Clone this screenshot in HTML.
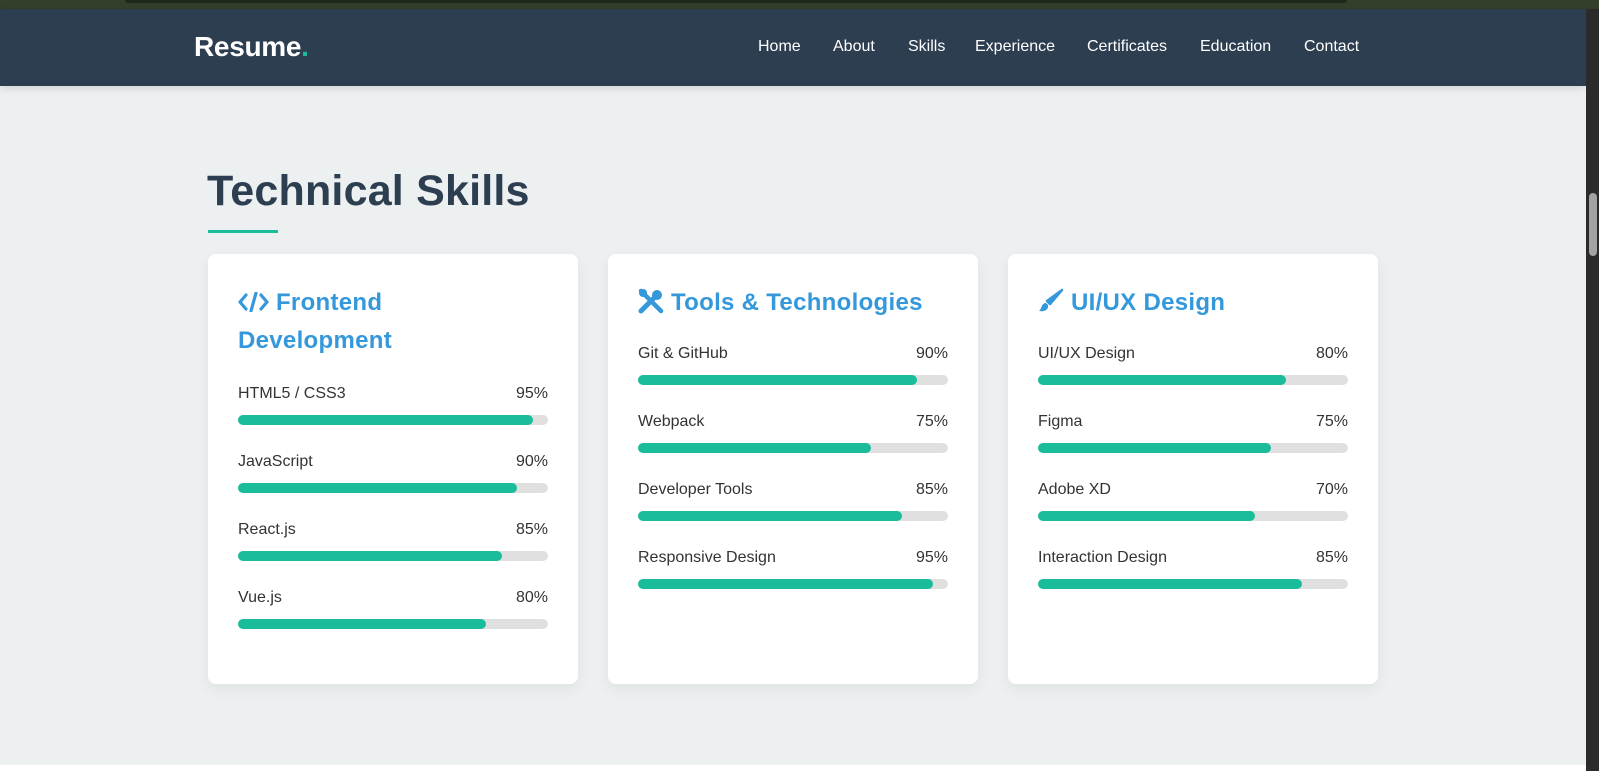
<!DOCTYPE html>
<html><head><meta charset="utf-8"><style>
*{margin:0;padding:0;box-sizing:border-box}
body{width:1599px;height:771px;overflow:hidden;background:#ecf0f1;position:relative;font-family:"Liberation Sans",sans-serif}
.abs{position:absolute}
.top{left:0;top:0;width:1599px;height:9px;background:#333f2b}
.topbar{left:125px;top:0;width:1222px;height:3px;background:#1e2719;border-radius:0 0 8px 8px}
.nav{left:0;top:9px;width:1586px;height:77px;background:#2c3e50;box-shadow:0 2px 8px rgba(0,0,0,.12)}
.logo{left:194px;top:30px;color:#fff;font-size:28px;font-weight:bold;letter-spacing:-0.3px;line-height:34px}
.logo span{color:#1abc9c}
.nl{top:37px;color:#fff;font-size:16px;line-height:20px}
.title{left:207px;top:166px;color:#2c3e50;font-size:43px;font-weight:bold;line-height:50px;letter-spacing:0.2px}
.ul{left:208px;top:230px;width:70px;height:3px;background:#1abc9c}
.card{top:254px;width:370px;height:430px;background:#fff;border-radius:8px;box-shadow:0 5px 15px rgba(0,0,0,.06)}
.h{color:#3498db;font-size:24px;font-weight:bold;line-height:38px;position:absolute;left:30px;letter-spacing:0.3px}
.lab{position:absolute;left:30px;width:310px;font-size:16px;color:#333;line-height:20px}
.lab b{font-weight:normal;float:right}
.bar{position:absolute;left:30px;width:310px;height:10px;border-radius:5px;background:#e0e0e0}
.bar i{display:block;height:10px;border-radius:5px;background:#1abc9c}
.sb{left:1586px;top:9px;width:13px;height:762px;background:#2b2b2b}
.th{left:1589px;top:193px;width:8px;height:63px;background:#a3a3a3;border-radius:4px}
.bot{left:0;top:765px;width:1586px;height:6px;background:#fff}
</style></head><body>
<div class="abs top"></div><div class="abs topbar"></div>
<div class="abs nav"></div>
<div class="abs logo">Resume<span>.</span></div>
<div class="abs nl" style="left:758px">Home</div>
<div class="abs nl" style="left:833px">About</div>
<div class="abs nl" style="left:908px">Skills</div>
<div class="abs nl" style="left:975px">Experience</div>
<div class="abs nl" style="left:1087px">Certificates</div>
<div class="abs nl" style="left:1200px">Education</div>
<div class="abs nl" style="left:1304px">Contact</div>
<div class="abs title">Technical Skills</div>
<div class="abs ul"></div>

<div class="abs card" style="left:208px">
<div class="h" style="top:30px"><svg width="31" height="20" viewBox="0 0 31 20" style="vertical-align:-2px"><path d="M8 3 L2 10 L8 17 M23 3 L29 10 L23 17" stroke="#3498db" stroke-width="3.2" fill="none" stroke-linecap="round" stroke-linejoin="round"/><path d="M18 1 L13 19" stroke="#3498db" stroke-width="3.2" stroke-linecap="round"/></svg> Frontend<br>Development</div>
<div class="lab" style="top:130px">HTML5 / CSS3<b>95%</b></div><div class="bar" style="top:161px"><i style="width:95%"></i></div>
<div class="lab" style="top:198px">JavaScript<b>90%</b></div><div class="bar" style="top:229px"><i style="width:90%"></i></div>
<div class="lab" style="top:266px">React.js<b>85%</b></div><div class="bar" style="top:297px"><i style="width:85%"></i></div>
<div class="lab" style="top:334px">Vue.js<b>80%</b></div><div class="bar" style="top:365px"><i style="width:80%"></i></div>
</div>

<div class="abs card" style="left:608px">
<div class="h" style="top:30px"><svg width="26" height="26" viewBox="0 0 26 26" style="vertical-align:-4px"><path d="M3 23 L17 9" stroke="#3498db" stroke-width="5" stroke-linecap="round"/><circle cx="19" cy="7" r="5" fill="#3498db"/><path d="M3 3 L23 23" stroke="#3498db" stroke-width="4.5" stroke-linecap="round"/><circle cx="5" cy="5" r="4" fill="#3498db"/></svg> Tools &amp; Technologies</div>
<div class="lab" style="top:90px">Git &amp; GitHub<b>90%</b></div><div class="bar" style="top:121px"><i style="width:90%"></i></div>
<div class="lab" style="top:158px">Webpack<b>75%</b></div><div class="bar" style="top:189px"><i style="width:75%"></i></div>
<div class="lab" style="top:226px">Developer Tools<b>85%</b></div><div class="bar" style="top:257px"><i style="width:85%"></i></div>
<div class="lab" style="top:294px">Responsive Design<b>95%</b></div><div class="bar" style="top:325px"><i style="width:95%"></i></div>
</div>

<div class="abs card" style="left:1008px">
<div class="h" style="top:30px"><svg width="26" height="26" viewBox="0 0 26 26" style="vertical-align:-4px"><path d="M24 2 L12 16 L9 13 Z" fill="#3498db" stroke="#3498db" stroke-width="2.5" stroke-linejoin="round"/><path d="M8 15 C3 15 4 21 1 23 C6 24 11 22 10 17 Z" fill="#3498db"/></svg> UI/UX Design</div>
<div class="lab" style="top:90px">UI/UX Design<b>80%</b></div><div class="bar" style="top:121px"><i style="width:80%"></i></div>
<div class="lab" style="top:158px">Figma<b>75%</b></div><div class="bar" style="top:189px"><i style="width:75%"></i></div>
<div class="lab" style="top:226px">Adobe XD<b>70%</b></div><div class="bar" style="top:257px"><i style="width:70%"></i></div>
<div class="lab" style="top:294px">Interaction Design<b>85%</b></div><div class="bar" style="top:325px"><i style="width:85%"></i></div>
</div>

<div class="abs bot"></div>
<div class="abs sb"></div><div class="abs th"></div>
</body></html>
